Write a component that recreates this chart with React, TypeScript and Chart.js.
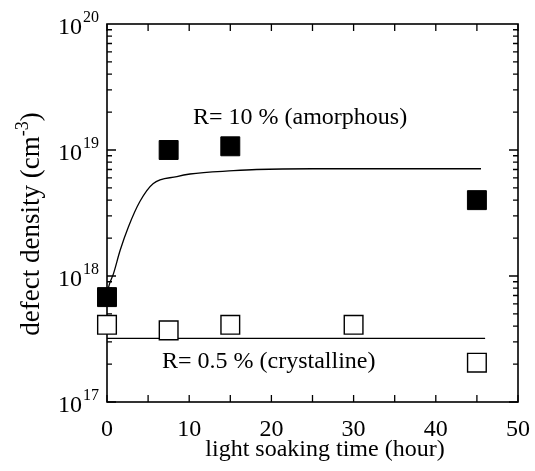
import React, { useEffect, useRef } from "react";
import { Chart, registerables } from "chart.js";

Chart.register(...registerables);

// ---- data ----
const filledX = [0, 7.5, 15, 45];
const filledY = [6.8e17, 1.0e19, 1.07e19, 4.0e18];

const openX = [0, 7.5, 15, 30, 45];
const openY = [4.1e17, 3.7e17, 4.1e17, 4.1e17, 2.05e17];

const fitX = [0, 0.2, 0.8, 1.6, 2.6, 4.0, 5.6, 8.5, 10.1, 15.4, 18.2, 25, 35, 45.5];
const fitY = [7.0e17, 8.2e17, 1.05e18, 1.6e18, 2.45e18, 3.9e18, 5.4e18, 6.15e18, 6.45e18, 6.85e18, 7.0e18, 7.1e18, 7.1e18, 7.1e18];

const crysX = [0, 46];
const crysY = [3.2e17, 3.2e17];

const xTicks = [0, 10, 20, 30, 40, 50];
const xMinorTicks = [5, 15, 25, 35, 45];
const yDecades = [17, 18, 19, 20];

const xTitle = "light soaking time (hour)";
const yTitleMain = "defect density (cm";
const yTitleSup = "-3";
const yTitleEnd = ")";
const noteAmorphous = "R= 10 % (amorphous)";
const noteCrystalline = "R= 0.5 % (crystalline)";

const FONT = '"Liberation Serif", "Times New Roman", serif';

function pts(xs: number[], ys: number[]) {
  return xs.map((x, i) => ({ x, y: ys[i] }));
}

const axesPlugin = {
  id: "customAxes",
  beforeDatasetsDraw(chart: any) {
    const ctx = chart.ctx as CanvasRenderingContext2D;
    const { left, right, top, bottom } = chart.chartArea;
    const xs = chart.scales.x;
    const ys = chart.scales.y;
    ctx.save();
    ctx.strokeStyle = "#000";
    ctx.lineWidth = 1.6;
    ctx.strokeRect(left, top, right - left, bottom - top);
    ctx.lineWidth = 1.3;
    [...xTicks, ...xMinorTicks].forEach((v) => {
      const px = xs.getPixelForValue(v);
      ctx.beginPath();
      ctx.moveTo(px, bottom);
      ctx.lineTo(px, bottom - 7);
      ctx.moveTo(px, top);
      ctx.lineTo(px, top + 7);
      ctx.stroke();
    });
    for (let d = 17; d < 20; d++) {
      for (let m = 1; m <= 9; m++) {
        const py = ys.getPixelForValue(m * Math.pow(10, d));
        const len = m === 1 ? 9 : 5;
        ctx.beginPath();
        ctx.moveTo(left, py);
        ctx.lineTo(left + len, py);
        ctx.moveTo(right, py);
        ctx.lineTo(right - len, py);
        ctx.stroke();
      }
    }
    ctx.restore();
  },
  afterDraw(chart: any) {
    const ctx = chart.ctx as CanvasRenderingContext2D;
    const { bottom } = chart.chartArea;
    const xs = chart.scales.x;
    const ys = chart.scales.y;
    ctx.save();
    ctx.fillStyle = "#000";
    ctx.font = `24px ${FONT}`;
    ctx.textAlign = "center";
    ctx.textBaseline = "alphabetic";
    xTicks.forEach((v) => {
      ctx.fillText(String(v), xs.getPixelForValue(v), bottom + 34);
    });
    yDecades.forEach((d) => {
      const py = ys.getPixelForValue(Math.pow(10, d));
      ctx.font = `24px ${FONT}`;
      ctx.textAlign = "right";
      ctx.fillText("10", 82, py + 10);
      ctx.font = `16px ${FONT}`;
      ctx.textAlign = "left";
      ctx.fillText(String(d), 83, py - 2);
    });
    ctx.font = `24px ${FONT}`;
    ctx.textAlign = "center";
    ctx.fillText(xTitle, 325, 456);
    ctx.save();
    ctx.translate(39, 224);
    ctx.rotate(-Math.PI / 2);
    ctx.font = `27px ${FONT}`;
    const w1 = ctx.measureText(yTitleMain).width;
    const w3 = ctx.measureText(yTitleEnd).width;
    ctx.font = `18px ${FONT}`;
    const w2 = ctx.measureText(yTitleSup).width;
    let x0 = -(w1 + w2 + w3) / 2;
    ctx.textAlign = "left";
    ctx.font = `27px ${FONT}`;
    ctx.fillText(yTitleMain, x0, 0);
    x0 += w1;
    ctx.font = `18px ${FONT}`;
    ctx.fillText(yTitleSup, x0, -11);
    x0 += w2;
    ctx.font = `27px ${FONT}`;
    ctx.fillText(yTitleEnd, x0, 0);
    ctx.restore();
    ctx.font = `24px ${FONT}`;
    ctx.textAlign = "left";
    ctx.fillText(noteAmorphous, 193, 124);
    ctx.fillText(noteCrystalline, 162, 368);
    ctx.restore();
  },
};

export default function App() {
  const ref = useRef<HTMLCanvasElement>(null);
  useEffect(() => {
    const chart = new Chart(ref.current!, {
      type: "scatter",
      data: {
        datasets: [
          {
            label: "filled",
            data: pts(filledX, filledY),
            pointStyle: "rect",
            pointRadius: 13.4,
            backgroundColor: "#000",
            borderColor: "#000",
            borderWidth: 1,
            clip: false,
            order: 0,
          } as any,
          {
            label: "open",
            data: pts(openX, openY),
            pointStyle: "rect",
            pointRadius: 13.2,
            backgroundColor: "#fff",
            borderColor: "#000",
            borderWidth: 1.4,
            clip: false,
            order: 1,
          } as any,
          {
            label: "fit",
            type: "line",
            data: pts(fitX, fitY),
            borderColor: "#000",
            borderWidth: 1.3,
            pointRadius: 0,
            cubicInterpolationMode: "monotone",
            fill: false,
            order: 2,
          } as any,
          {
            label: "crys",
            type: "line",
            data: pts(crysX, crysY),
            borderColor: "#000",
            borderWidth: 1.3,
            pointRadius: 0,
            fill: false,
            order: 3,
          } as any,
        ],
      },
      options: {
        animation: false,
        responsive: false,
        maintainAspectRatio: false,
        layout: { padding: { left: 107, top: 24, right: 17, bottom: 69 } },
        plugins: {
          legend: { display: false },
          tooltip: { enabled: false },
        },
        scales: {
          x: { type: "linear", min: 0, max: 50, display: false },
          y: { type: "logarithmic", min: 1e17, max: 1e20, display: false },
        },
      },
      plugins: [axesPlugin],
    });
    return () => chart.destroy();
  }, []);
  return (
    <div style={{ position: "fixed", left: 0, top: 0, width: 535, height: 471, background: "#fff" }}>
      <canvas ref={ref} width={535} height={471} style={{ width: 535, height: 471 }} />
    </div>
  );
}
